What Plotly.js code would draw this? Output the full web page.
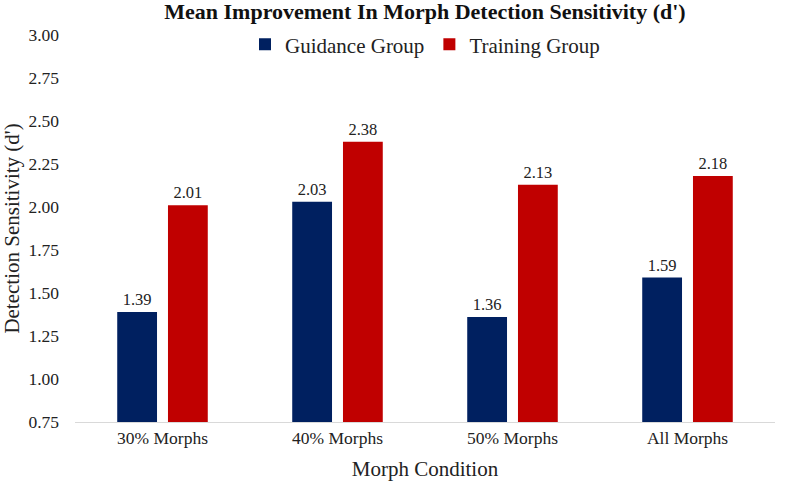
<!DOCTYPE html>
<html><head><meta charset="utf-8">
<script src="https://cdn.plot.ly/plotly-3.0.1.min.js"></script>
<style>html,body{margin:0;padding:0;background:#fff}</style>
</head><body><div id="chart" style="width:787px;height:490px"></div>
<script>
const categories = ["30% Morphs", "40% Morphs", "50% Morphs", "All Morphs"];
const guidanceValues = [1.39, 2.03, 1.36, 1.59];
const trainingValues = [2.01, 2.38, 2.13, 2.18];
const yTickValues = [0.75, 1.00, 1.25, 1.50, 1.75, 2.00, 2.25, 2.50, 2.75, 3.00];

const font = "Liberation Serif, Times New Roman, serif";
const traces = [
  {type:"bar", name:"Guidance Group", x:categories, y:guidanceValues,
   marker:{color:"#002060"}, text:guidanceValues.map(v=>v.toFixed(2)),
   textposition:"outside", cliponaxis:false, textfont:{family:font,size:16.5,color:"#222"}},
  {type:"bar", name:"Training Group", x:categories, y:trainingValues,
   marker:{color:"#C00000"}, text:trainingValues.map(v=>v.toFixed(2)),
   textposition:"outside", cliponaxis:false, textfont:{family:font,size:16.5,color:"#222"}}
];
const layout = {
  width:787, height:490,
  margin:{l:75, r:12, t:35, b:68},
  paper_bgcolor:"#fff", plot_bgcolor:"#fff",
  font:{family:font, color:"#222"},
  title:{text:"<b>Mean Improvement In Morph Detection Sensitivity (d')</b>",
         font:{family:font,size:22,color:"#111"}, x:0.54, xanchor:"center", y:0.977, yanchor:"middle"},
  barmode:"group", bargap:0.42, bargroupgap:0.216,
  showlegend:true,
  legend:{orientation:"h", x:0.5, xanchor:"center", y:0.975, yanchor:"middle",
          font:{family:font,size:21,color:"#222"}, itemwidth:30, traceorder:"normal", bgcolor:"rgba(0,0,0,0)"},
  xaxis:{tickfont:{family:font,size:17.5,color:"#222"}, showline:true, linecolor:"#d9d9d9", linewidth:1,
         ticks:"", showgrid:false,
         title:{text:"Morph Condition", font:{family:font,size:21,color:"#222"}, standoff:14}},
  yaxis:{range:[0.75,3.0], tickvals:yTickValues, ticktext:yTickValues.map(v=>v.toFixed(2)),
         tickfont:{family:font,size:17.5,color:"#222"}, showgrid:false, zeroline:false, showline:false,
         ticks:"", ticklabelstandoff:15,
         title:{text:"Detection Sensitivity (d')", font:{family:font,size:21,color:"#222"}, standoff:4}}
};
Plotly.newPlot("chart", traces, layout, {displayModeBar:false, staticPlot:true});
</script></body></html>
